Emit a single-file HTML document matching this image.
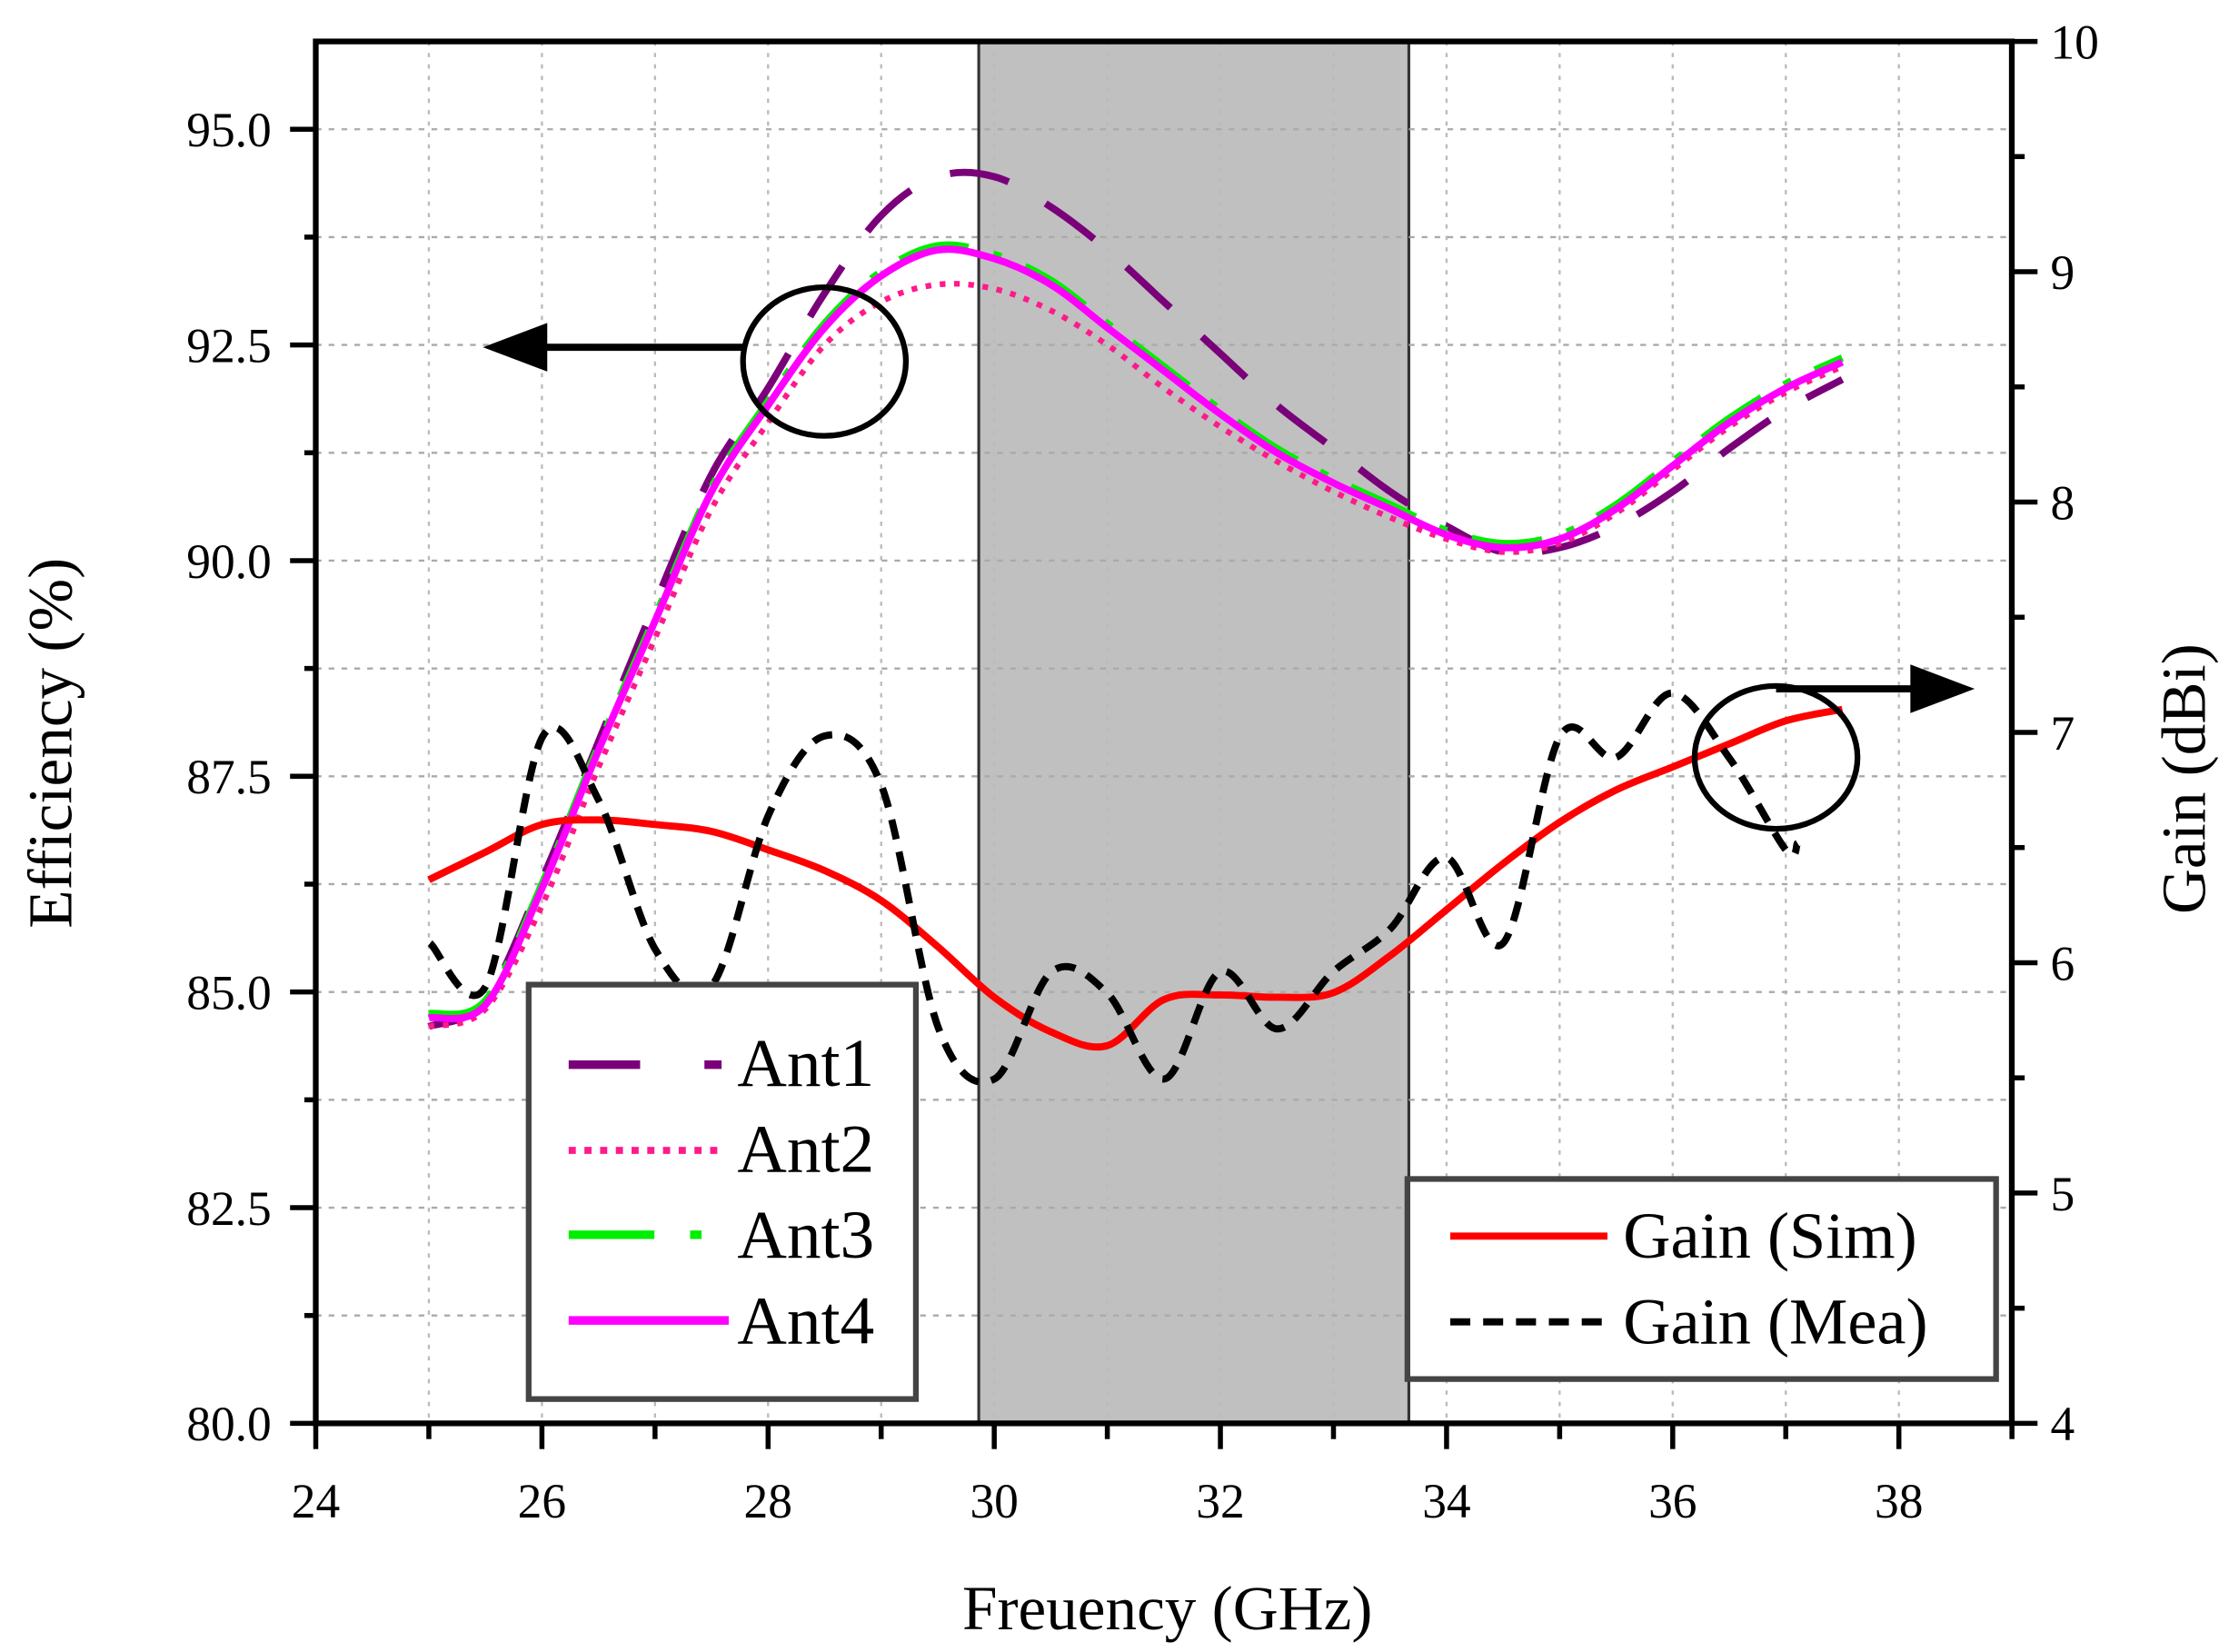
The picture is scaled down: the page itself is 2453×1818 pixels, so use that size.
<!DOCTYPE html>
<html><head><meta charset="utf-8"><style>
html,body{margin:0;padding:0;background:#fff;}
svg{display:block;}
text{font-family:"Liberation Serif",serif;fill:#000;}
</style></head><body>
<svg id="s" width="2453" height="1818" viewBox="0 0 1560 1156" preserveAspectRatio="none" xmlns="http://www.w3.org/2000/svg">
<rect x="0" y="0" width="1560" height="1156" fill="#fff"/>
<rect x="685" y="29" width="301" height="967" fill="#c0c0c0" stroke="#333" stroke-width="2"/>
<g id="grid"></g>
<g id="curves"></g>
<rect x="221" y="29" width="1187" height="967" fill="none" stroke="#000" stroke-width="4"/>
<g id="ticks"></g>
<ellipse cx="577" cy="253" rx="57" ry="52" fill="none" stroke="#000" stroke-width="4"/>
<line x1="520" y1="243" x2="375" y2="243" stroke="#000" stroke-width="5"/>
<polygon points="338,243 383,226 383,260" fill="#000"/>
<ellipse cx="1243" cy="530" rx="57" ry="50" fill="none" stroke="#000" stroke-width="4"/>
<line x1="1243" y1="482" x2="1345" y2="482" stroke="#000" stroke-width="5"/>
<polygon points="1382,482 1337,465 1337,499" fill="#000"/>
<rect x="370" y="689" width="271" height="290" fill="#fff" stroke="#444" stroke-width="4"/>
<line x1="398" y1="745" x2="505" y2="745" stroke="#7a007a" stroke-width="6" stroke-dasharray="50,45"/>
<line x1="398" y1="805" x2="505" y2="805" stroke="#ff1a8c" stroke-width="5" stroke-dasharray="5,6"/>
<line x1="398" y1="864" x2="510" y2="864" stroke="#00ee00" stroke-width="6" stroke-dasharray="60,25,8,25"/>
<line x1="398" y1="924" x2="510" y2="924" stroke="#ff00ff" stroke-width="6"/>
<text x="516" y="760" font-size="48">Ant1</text>
<text x="516" y="820" font-size="48">Ant2</text>
<text x="516" y="880" font-size="48">Ant3</text>
<text x="516" y="940" font-size="48">Ant4</text>
<rect x="985" y="825" width="412" height="140" fill="#fff" stroke="#444" stroke-width="4"/>
<line x1="1015" y1="865" x2="1125" y2="865" stroke="#ff0000" stroke-width="5"/>
<line x1="1015" y1="925" x2="1125" y2="925" stroke="#000" stroke-width="5" stroke-dasharray="14,9"/>
<text x="1136" y="880" font-size="46">Gain (Sim)</text>
<text x="1136" y="940" font-size="46">Gain (Mea)</text>
<text transform="translate(50,520) rotate(-90)" font-size="44" text-anchor="middle">Efficiency (%)</text>
<text transform="translate(1543,545) rotate(-90)" font-size="44" text-anchor="middle">Gain (dBi)</text>
<text x="817" y="1140" font-size="44" text-anchor="middle">Freuency (GHz)</text>
</svg>
<script>
var NS="http://www.w3.org/2000/svg";
function X(f){return 221+(f-24)*79.14;}
function YE(e){return 996-(e-80)*60.37;}
function YG(g){return 996-(g-4)*161.17;}
function el(t,a,p){var e=document.createElementNS(NS,t);for(var k in a)e.setAttribute(k,a[k]);if(p)document.getElementById(p).appendChild(e);return e;}
for(var f=25;f<=38;f++){el("line",{x1:X(f),y1:29,x2:X(f),y2:996,stroke:"#bbb","stroke-width":1.5,"stroke-dasharray":"3,5"},"grid");}
for(var e=81.25;e<96;e+=1.25){el("line",{x1:221,y1:YE(e),x2:1408,y2:YE(e),stroke:"#aaa","stroke-width":1.5,"stroke-dasharray":"4,5"},"grid");}
for(var f=24;f<=39;f++){var maj=(f%2==0);el("line",{x1:X(f),y1:996,x2:X(f),y2:996+(maj?18:11),stroke:"#000","stroke-width":3.5},"ticks");
 if(maj){var t=el("text",{x:X(f),y:1062,"font-size":34,"text-anchor":"middle"},"ticks");t.textContent=f;}}
for(var e=80;e<=95;e+=1.25){var maj=(Math.abs(e/2.5-Math.round(e/2.5))<1e-6);el("line",{x1:221-(maj?18:8),y1:YE(e),x2:221,y2:YE(e),stroke:"#000","stroke-width":3.5},"ticks");
 if(maj){var t=el("text",{x:190,y:YE(e)+12,"font-size":34,"text-anchor":"end"},"ticks");t.textContent=e.toFixed(1);}}
for(var g=4;g<=10;g+=0.5){var maj=(g%1==0);el("line",{x1:1408,y1:YG(g),x2:1408+(maj?18:9),y2:YG(g),stroke:"#000","stroke-width":3.5},"ticks");
 if(maj){var t=el("text",{x:1435,y:YG(g)+12,"font-size":34},"ticks");t.textContent=g;}}
function path(pts){var d="M"+pts[0][0]+","+pts[0][1];for(var i=0;i<pts.length-1;i++){var p0=pts[i-1]||pts[i],p1=pts[i],p2=pts[i+1],p3=pts[i+2]||p2;
 d+=" C"+(p1[0]+(p2[0]-p0[0])/6)+","+(p1[1]+(p2[1]-p0[1])/6)+" "+(p2[0]-(p3[0]-p1[0])/6)+","+(p2[1]-(p3[1]-p1[1])/6)+" "+p2[0]+","+p2[1];}return d;}
function eff(arr){return arr.map(function(v){return [X(v[0]),YE(v[1])];});}
var fr=[25,25.5,26,26.5,27,27.5,28,28.5,29,29.5,30,30.5,31,31.5,32,32.5,33,33.5,34,34.5,35,35.5,36,36.5,37,37.5];
function z(v){return fr.map(function(f,i){return [f,v[i]];});}
var a4=[84.7,84.85,86.2,87.8,89.3,90.8,91.8,92.7,93.3,93.6,93.5,93.2,92.7,92.2,91.7,91.25,90.9,90.6,90.3,90.15,90.25,90.6,91.1,91.6,92.0,92.3];
var a3=a4.map(function(v,i){return v+0.05;});
var a2=[84.6,84.8,86.0,87.6,89.1,90.6,91.6,92.5,93.0,93.2,93.15,92.9,92.5,92.0,91.55,91.15,90.8,90.5,90.25,90.1,90.2,90.55,91.05,91.55,91.95,92.25];
var a1=[84.6,84.9,86.3,87.9,89.5,91.0,92.0,93.1,94.0,94.45,94.45,94.1,93.6,93.0,92.4,91.8,91.3,90.8,90.4,90.1,90.15,90.4,90.8,91.3,91.75,92.1];
el("path",{d:path(eff(z(a1))),fill:"none",stroke:"#7a007a","stroke-width":5,"stroke-dasharray":"42,30"},"curves");
el("path",{d:path(eff(z(a3))),fill:"none",stroke:"#00ee00","stroke-width":5,"stroke-dasharray":"50,18,6,18"},"curves");
el("path",{d:path(eff(z(a2))),fill:"none",stroke:"#ff1a8c","stroke-width":4,"stroke-dasharray":"4,6"},"curves");
el("path",{d:path(eff(z(a4))),fill:"none",stroke:"#ff00ff","stroke-width":5},"curves");
var gs=[6.36,6.48,6.6,6.62,6.6,6.57,6.49,6.4,6.27,6.07,5.85,5.7,5.64,5.84,5.86,5.85,5.87,6.03,6.23,6.43,6.61,6.75,6.85,6.95,7.05,7.1];
el("path",{d:path(fr.map(function(f,i){return [X(f),YG(gs[i])];})),fill:"none",stroke:"#ff0000","stroke-width":5},"curves");
var gm=[[301,660],[340,690],[380,515],[419,560],[459,665],[498,690],[538,570],[577,515],[617,550],[657,720],[696,755],[736,680],[775,695],[815,755],[854,680],[894,720],[933,680],[973,650],[1012,600],[1052,660],[1092,515],[1131,530],[1170,485],[1210,530],[1250,595],[1258,590]];
el("path",{d:path(gm),fill:"none",stroke:"#000","stroke-width":5,"stroke-dasharray":"14,9"},"curves");
</script>
</body></html>
